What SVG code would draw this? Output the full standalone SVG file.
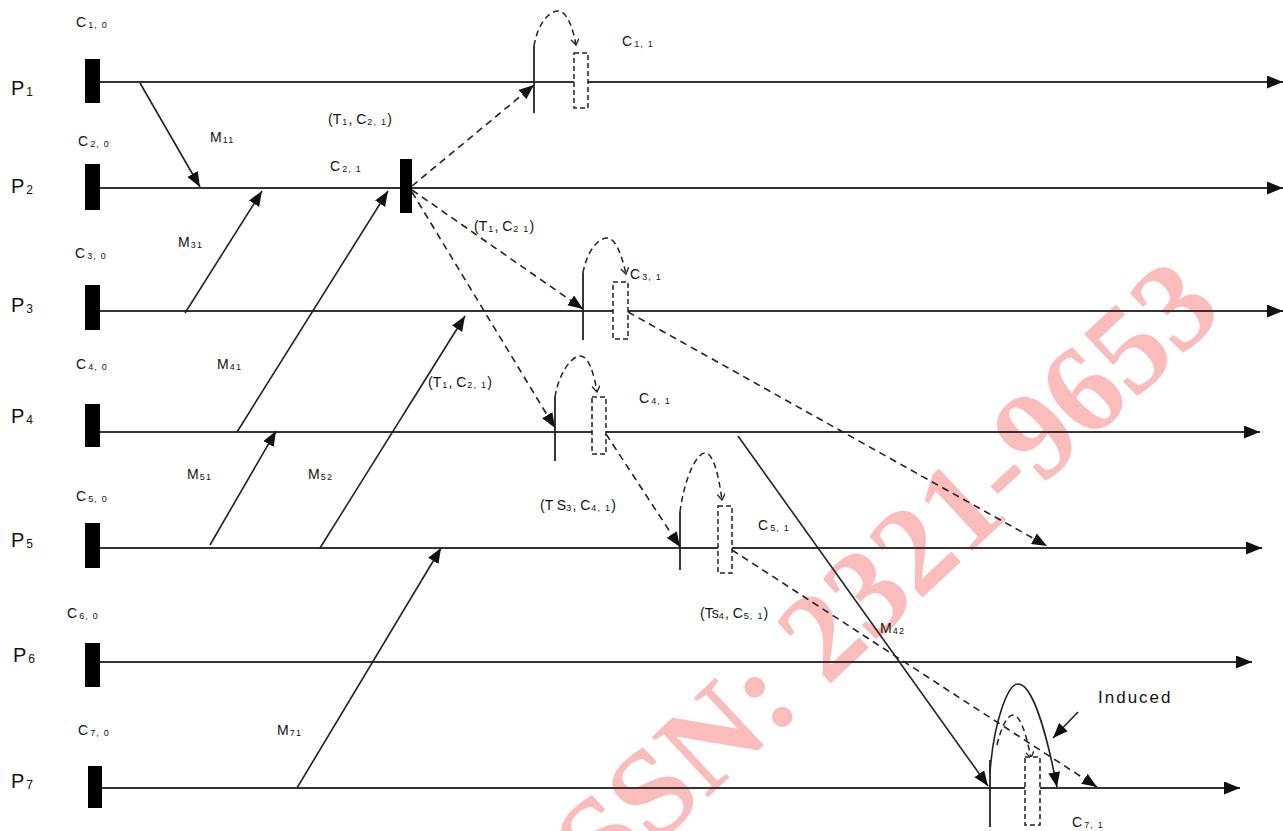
<svg xmlns="http://www.w3.org/2000/svg" width="1283" height="831" viewBox="0 0 1283 831">
<defs>
<marker id="ah" markerUnits="userSpaceOnUse" markerWidth="18" markerHeight="14" refX="16" refY="6.5" orient="auto"><path d="M0,0 L16,6.5 L0,13 z" fill="#111"/></marker>
<marker id="ahs" markerUnits="userSpaceOnUse" markerWidth="18" markerHeight="14" refX="15" refY="6" orient="auto"><path d="M0,0 L15,6 L0,12 z" fill="#111"/></marker>
<marker id="chev" markerUnits="userSpaceOnUse" markerWidth="10" markerHeight="10" refX="7" refY="4" orient="auto"><path d="M1,0 L7,4 L1,8" fill="none" stroke="#222" stroke-width="1.3"/></marker>
<style>
.proc{stroke:#333;stroke-width:2;fill:none}
.bar{fill:#000}
.msg{stroke:#222;stroke-width:1.6;fill:none}
.dsh{stroke:#222;stroke-width:1.6;fill:none;stroke-dasharray:7 5}
.arc{stroke:#222;stroke-width:1.5;fill:none;stroke-dasharray:6 4}
.rect{stroke:#222;stroke-width:1.5;fill:#fff;stroke-dasharray:5 3}
.vl{stroke:#222;stroke-width:1.8}
text{font-family:"Liberation Sans",Arial,sans-serif;fill:#111}
.p{font-size:20px}
.ps{font-size:12px}
.c{font-size:14px}
.s{font-size:9px;letter-spacing:1.2px}
.wm{font-family:"Liberation Serif","Times New Roman",serif;font-weight:bold;font-size:126px;fill:#fbbcbc}
</style>
</defs>
<rect width="1283" height="831" fill="#fff"/>
<text class="wm" transform="translate(568,928) rotate(-43)">ISSN: 2321-9653</text>

<g id="processes">
<g id="P1"><line class="proc" x1="100" y1="82" x2="1283" y2="82" marker-end="url(#ah)"/><rect class="bar" x="85" y="59" width="15" height="44"/><text class="p" x="11" y="95">P<tspan class="ps" dx="2" dy="1">1</tspan></text><text class="c" x="76" y="27">C<tspan class="s" dx="2" dy="1">1, 0</tspan></text></g>
<g id="P2"><line class="proc" x1="100" y1="188" x2="1283" y2="188" marker-end="url(#ah)"/><rect class="bar" x="85" y="164" width="15" height="46"/><text class="p" x="11" y="193">P<tspan class="ps" dx="2" dy="1">2</tspan></text><text class="c" x="78" y="146">C<tspan class="s" dx="2" dy="1">2, 0</tspan></text></g>
<g id="P3"><line class="proc" x1="100" y1="311" x2="1283" y2="311" marker-end="url(#ah)"/><rect class="bar" x="85" y="285" width="15" height="45"/><text class="p" x="11" y="312">P<tspan class="ps" dx="2" dy="1">3</tspan></text><text class="c" x="75" y="258">C<tspan class="s" dx="2" dy="1">3, 0</tspan></text></g>
<g id="P4"><line class="proc" x1="100" y1="432" x2="1260" y2="432" marker-end="url(#ah)"/><rect class="bar" x="85" y="404" width="15" height="43"/><text class="p" x="11" y="423">P<tspan class="ps" dx="2" dy="1">4</tspan></text><text class="c" x="76" y="369">C<tspan class="s" dx="2" dy="1">4, 0</tspan></text></g>
<g id="P5"><line class="proc" x1="100" y1="548" x2="1262" y2="548" marker-end="url(#ah)"/><rect class="bar" x="85" y="523" width="15" height="45"/><text class="p" x="11" y="547">P<tspan class="ps" dx="2" dy="1">5</tspan></text><text class="c" x="76" y="501">C<tspan class="s" dx="2" dy="1">5, 0</tspan></text></g>
<g id="P6"><line class="proc" x1="100" y1="662" x2="1252" y2="662" marker-end="url(#ah)"/><rect class="bar" x="85" y="643" width="15" height="44"/><text class="p" x="13" y="662">P<tspan class="ps" dx="2" dy="1">6</tspan></text><text class="c" x="67" y="618">C<tspan class="s" dx="2" dy="1">6, 0</tspan></text></g>
<g id="P7"><line class="proc" x1="102" y1="788" x2="1240" y2="788" marker-end="url(#ah)"/><rect class="bar" x="88" y="766" width="14" height="42"/><text class="p" x="11" y="788">P<tspan class="ps" dx="2" dy="1">7</tspan></text><text class="c" x="78" y="735">C<tspan class="s" dx="2" dy="1">7, 0</tspan></text></g>
</g>

<g id="checkpoints">
<g id="C21"><rect class="bar" x="400" y="159" width="12" height="54"/><text class="c" x="330" y="171">C<tspan class="s" dx="2" dy="1">2, 1</tspan></text><text class="c" x="328" y="124">(T<tspan class="s" dx="1" dy="1">1</tspan><tspan dy="-1">, C</tspan><tspan class="s" dx="1" dy="1">2, 1</tspan><tspan dy="-1">)</tspan></text></g>
<g id="C11"><line class="vl" x1="534" y1="46" x2="534" y2="113"/><path class="arc" d="M534,46 C538,22 550,11 558,11 C567,11 573,28 576,45" marker-end="url(#chev)"/><rect class="rect" x="574" y="53" width="14" height="55"/><text class="c" x="622" y="46">C<tspan class="s" dx="2" dy="1">1, 1</tspan></text></g>
<g id="C31"><line class="vl" x1="583" y1="273" x2="583" y2="340"/><path class="arc" d="M583,273 C587,250 599,238 607,238 C616,238 622,256 626,274" marker-end="url(#chev)"/><rect class="rect" x="613" y="282" width="15" height="57"/><text class="c" x="630" y="279">C<tspan class="s" dx="2" dy="1">3, 1</tspan></text></g>
<g id="C41"><line class="vl" x1="555" y1="397" x2="555" y2="461"/><path class="arc" d="M555,397 C559,372 572,356 580,356 C589,356 594,374 597,392" marker-end="url(#chev)"/><rect class="rect" x="592" y="397" width="14" height="57"/><text class="c" x="639" y="403">C<tspan class="s" dx="2" dy="1">4, 1</tspan></text></g>
<g id="C51"><line class="vl" x1="680" y1="512" x2="680" y2="570"/><path class="arc" d="M680,512 C684,480 696,453 705,453 C714,453 719,478 722,500" marker-end="url(#chev)"/><rect class="rect" x="718" y="506" width="14" height="67"/><text class="c" x="758" y="530">C<tspan class="s" dx="2" dy="1">5, 1</tspan></text></g>
<g id="C71"><line class="vl" x1="990" y1="760" x2="990" y2="827"/><path class="arc" d="M997,745 C1001,728 1007,715 1013,715 C1021,715 1027,738 1031,758" marker-end="url(#chev)"/><rect class="rect" x="1025" y="757" width="15" height="68"/><text class="c" x="1072" y="827">C<tspan class="s" dx="2" dy="1">7, 1</tspan></text></g>
</g>

<g id="connectors">
<line class="msg" x1="140" y1="83" x2="200" y2="187" marker-end="url(#ahs)"/>
<line class="msg" x1="185" y1="313" x2="262" y2="191" marker-end="url(#ahs)"/>
<line class="msg" x1="237" y1="432" x2="388" y2="191" marker-end="url(#ahs)"/>
<line class="msg" x1="210" y1="545" x2="276" y2="431" marker-end="url(#ahs)"/>
<line class="msg" x1="320" y1="548" x2="465" y2="316" marker-end="url(#ahs)"/>
<line class="msg" x1="297" y1="788" x2="441" y2="548" marker-end="url(#ahs)"/>
<line class="msg" x1="738" y1="436" x2="988" y2="786" marker-end="url(#ahs)"/>
<line class="dsh" x1="412" y1="186" x2="534" y2="85" marker-end="url(#ahs)"/>
<line class="dsh" x1="412" y1="190" x2="583" y2="309" marker-end="url(#ahs)"/>
<line class="dsh" x1="412" y1="192" x2="555" y2="428" marker-end="url(#ahs)"/>
<line class="dsh" x1="628" y1="312" x2="1047" y2="546" marker-end="url(#ahs)"/>
<line class="dsh" x1="606" y1="434" x2="680" y2="547" marker-end="url(#ahs)"/>
<line class="dsh" x1="732" y1="550" x2="1097" y2="787" marker-end="url(#ahs)"/>
<path class="msg" d="M990,772 C994,720 1008,684 1018,684 C1032,684 1046,730 1057,787" marker-end="url(#ahs)"/>
<line class="msg" x1="1078" y1="712" x2="1053" y2="738" marker-end="url(#ahs)"/>
</g>

<g id="labels">
<text class="c" x="210" y="142">M<tspan class="s" dx="1" dy="1">11</tspan></text>
<text class="c" x="178" y="247">M<tspan class="s" dx="1" dy="1">31</tspan></text>
<text class="c" x="217" y="369">M<tspan class="s" dx="1" dy="1">41</tspan></text>
<text class="c" x="187" y="479">M<tspan class="s" dx="1" dy="1">51</tspan></text>
<text class="c" x="308" y="479">M<tspan class="s" dx="1" dy="1">52</tspan></text>
<text class="c" x="277" y="735">M<tspan class="s" dx="1" dy="1">71</tspan></text>
<text class="c" x="880" y="633">M<tspan class="s" dx="1" dy="1">42</tspan></text>
<text class="c" x="474" y="231">(T<tspan class="s" dx="1" dy="1">1</tspan><tspan dy="-1">, C</tspan><tspan class="s" dx="1" dy="1">2  1</tspan><tspan dy="-1">)</tspan></text>
<text class="c" x="428" y="387">(T<tspan class="s" dx="1" dy="1">1</tspan><tspan dy="-1">, C</tspan><tspan class="s" dx="1" dy="1">2, 1</tspan><tspan dy="-1">)</tspan></text>
<text class="c" x="540" y="510">(T S<tspan class="s" dy="1">3</tspan><tspan dy="-1">, C</tspan><tspan class="s" dx="1" dy="1">4, 1</tspan><tspan dy="-1">)</tspan></text>
<text class="c" x="700" y="618">(Ts<tspan class="s" dy="1">4</tspan><tspan dy="-1">, C</tspan><tspan class="s" dx="1" dy="1">5, 1</tspan><tspan dy="-1">)</tspan></text>
<text x="1098" y="703" style="font-size:17px;letter-spacing:2px">Induced</text>
</g>
</svg>
